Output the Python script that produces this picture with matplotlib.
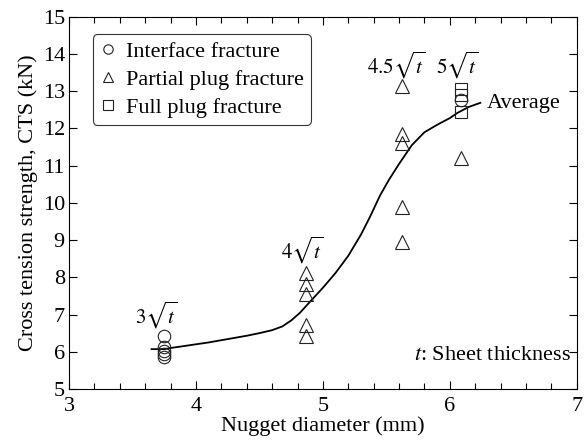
import numpy as np
import matplotlib
matplotlib.use('Agg')
import matplotlib.pyplot as plt
from matplotlib.ticker import MultipleLocator

plt.rcParams['font.family'] = ['Liberation Serif', 'DejaVu Serif']
plt.rcParams['mathtext.fontset'] = 'stix'

# measured values (mm, kN)
interface_x = [3.75, 3.75, 3.75, 3.75, 3.75, 6.09]
interface_y = [6.42, 6.12, 6.03, 5.95, 5.86, 12.77]

partial_x = [4.87, 4.87, 4.87, 4.87, 4.87, 5.62, 5.62, 5.62, 5.62, 5.62, 6.09]
partial_y = [8.12, 7.82, 7.55, 6.72, 6.42, 13.15, 11.84, 11.60, 9.88, 8.94, 11.22]

full_x = [6.09, 6.09, 6.09]
full_y = [13.07, 12.91, 12.43]

# average curve
avg_x = [3.65, 3.75, 3.80, 3.90, 4.00, 4.10, 4.20, 4.30, 4.40, 4.50, 4.60, 4.68,
         4.75, 4.82, 4.90, 5.00, 5.10, 5.20, 5.30, 5.37, 5.45, 5.52, 5.60, 5.70,
         5.80, 5.90, 6.00, 6.06, 6.15, 6.24]
avg_y = [6.07, 6.07, 6.10, 6.15, 6.20, 6.25, 6.31, 6.37, 6.43, 6.50, 6.58, 6.68,
         6.84, 7.05, 7.35, 7.72, 8.12, 8.58, 9.15, 9.62, 10.20, 10.62, 11.05, 11.55,
         11.90, 12.10, 12.28, 12.42, 12.58, 12.69]

labels = [r'$3\sqrt{t}$', r'$4\sqrt{t}$', r'$4.5\sqrt{t}$', r'$5\sqrt{t}$']
label_x = [3.69, 4.84, 5.58, 6.06]
label_y = [6.98, 8.73, 13.69, 13.69]

fs = 16

fig = plt.figure(figsize=(5.85, 4.44), dpi=100)
ax = fig.add_axes([0.118, 0.124, 0.868, 0.838])

ax.plot(avg_x, avg_y, color='black', lw=1.3)
ax.plot(interface_x, interface_y, 'o', mfc='none', mec='#222222', ms=9, mew=0.8,
        ls='none', label='Interface fracture')
ax.plot(partial_x, partial_y, '^', mfc='none', mec='#222222', ms=9.5, mew=0.8,
        ls='none', label='Partial plug fracture')
ax.plot(full_x, full_y, 's', mfc='none', mec='#222222', ms=9, mew=0.8,
        ls='none', label='Full plug fracture')

for s, x, y in zip(labels, label_x, label_y):
    ax.text(x, y, s, ha='center', va='center', fontsize=15)
ax.text(6.29, 12.68, 'Average', ha='left', va='center', fontsize=fs)
ax.text(6.95, 5.9, r'$t$: Sheet thickness', ha='right', va='center', fontsize=fs)

ax.set_xlim(3, 7)
ax.set_ylim(5, 15)
ax.xaxis.set_major_locator(MultipleLocator(1))
ax.xaxis.set_minor_locator(MultipleLocator(0.2))
ax.yaxis.set_major_locator(MultipleLocator(1))
ax.tick_params(which='both', direction='in', top=True, right=True, labelsize=fs)
ax.tick_params(which='major', length=6, width=0.8)
ax.tick_params(which='minor', length=4, width=0.8)
ax.tick_params(axis='x', which='major', pad=6)
ax.tick_params(axis='y', which='major', pad=3)
for sp in ax.spines.values():
    sp.set_linewidth(0.8)

ax.set_xlabel('Nugget diameter (mm)', fontsize=fs, labelpad=0)
ax.set_ylabel('Cross tension strength, CTS (kN)', fontsize=fs, labelpad=3)

leg = ax.legend(loc='upper left', bbox_to_anchor=(0.047, 0.953), fontsize=fs,
                frameon=True, fancybox=True, edgecolor='black', handlelength=0.8,
                handletextpad=0.4, borderpad=0.3, labelspacing=0.35, markerscale=0.75,
                borderaxespad=0)
leg.get_frame().set_linewidth(0.8)

fig.savefig('out.png', dpi=100)
